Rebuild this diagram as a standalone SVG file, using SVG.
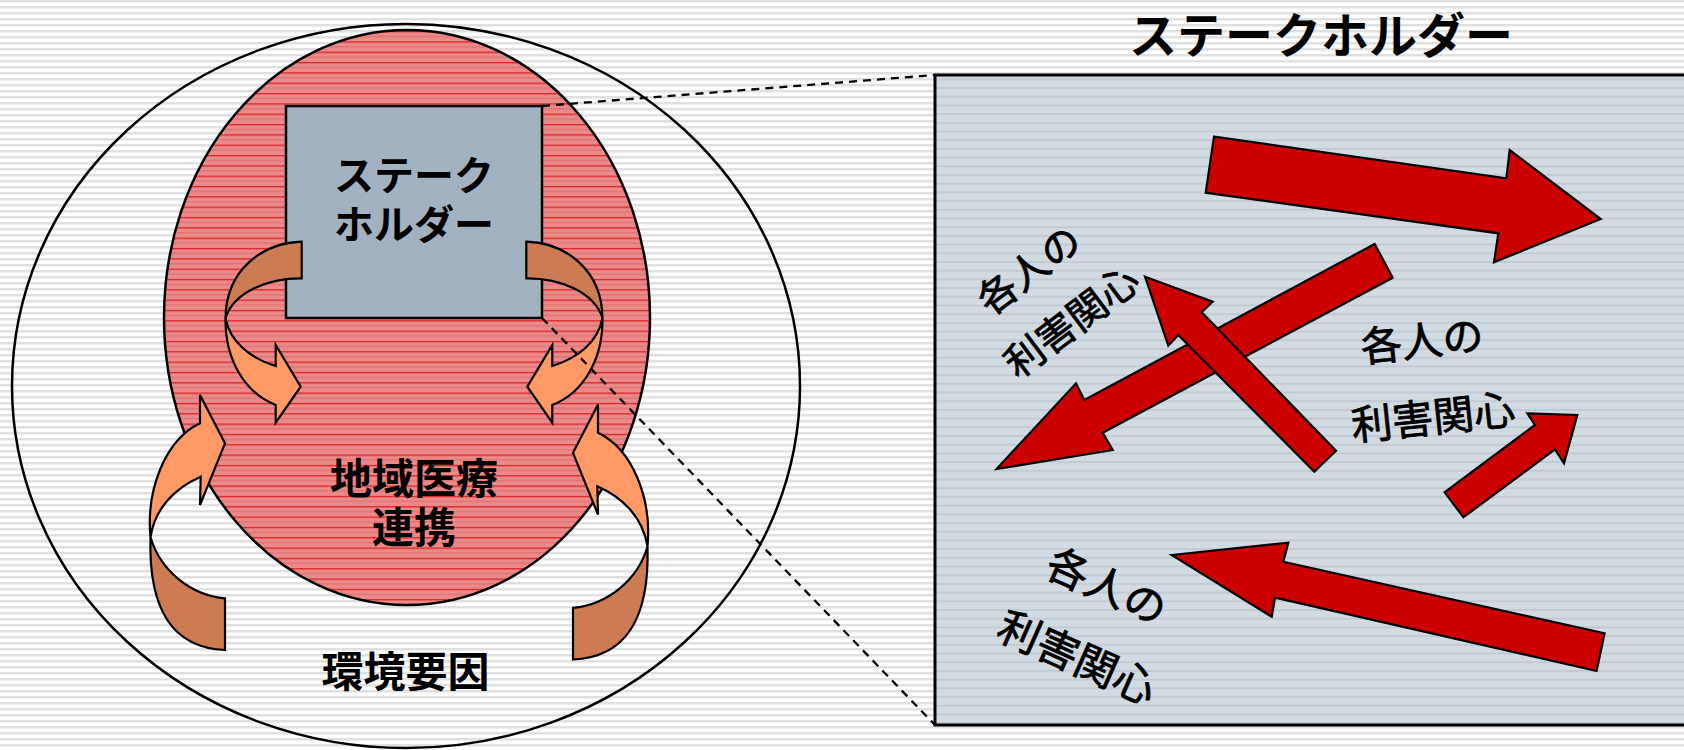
<svg xmlns="http://www.w3.org/2000/svg" xmlns:xlink="http://www.w3.org/1999/xlink" width="1684" height="750" viewBox="0 0 1684 750">
<defs>
<pattern id="bgp" patternUnits="userSpaceOnUse" width="8" height="6"><rect width="8" height="6" fill="#ffffff"/><rect y="0" width="8" height="2.5" fill="#e0e0e0"/></pattern>
<pattern id="redp" patternUnits="userSpaceOnUse" width="8" height="10.33"><rect width="8" height="10.33" fill="#ea8a8a"/><rect y="0" width="8" height="1.3" fill="#dd2222"/><rect y="5" width="8" height="1" fill="#e06a6a"/></pattern>
<pattern id="greyp" patternUnits="userSpaceOnUse" width="8" height="8.7"><rect width="8" height="8.7" fill="#d2dae2"/><rect y="0" width="8" height="2" fill="#c2cbd5"/></pattern>
<path id="ulBack" d="M301.7,241.7 L301.7,278.3 C268,278 234,292 225.5,318 C226,270 262,243 301.7,241.7 Z"/>
<path id="ulFront" d="M225.5,318 C225,360 245,393 275.7,405 L275.7,422.7 L300.7,386.7 L275.7,345 L275.7,366 C250,358 230,342 225.5,318 Z"/>
<path id="llBack" d="M225,598.3 L225,650 C180,648 148,620 150.5,537 C160,570 190,595 225,598.3 Z"/>
<path id="llFront" d="M150.5,537 C146,490 165,440 200,423.3 L200,395 L225,443.3 L200,505 L200.7,476.7 C175,488 155,508 150.5,537 Z"/>
</defs>
<style>
.ln{stroke:#000;stroke-width:2.5;}
.back{fill:#cc7b53;stroke:#000;stroke-width:2.2;stroke-linejoin:miter;}
.front{fill:#ff9966;stroke:#000;stroke-width:2.2;stroke-linejoin:miter;}
.red{fill:#cc0000;stroke:#000;stroke-width:2.2;stroke-linejoin:miter;}
.jb{font-family:'Liberation Sans','Noto Sans CJK JP',sans-serif;font-weight:bold;fill:#000;text-anchor:middle;}
.jn{font-family:'Liberation Sans','Noto Sans CJK JP',sans-serif;font-weight:normal;fill:#000;stroke:#000;stroke-width:0.8;text-anchor:middle;}
.dash{fill:none;stroke:#000;stroke-width:2.3;stroke-dasharray:8,6;}
</style>
<rect width="1684" height="750" fill="url(#bgp)"/>

<g id="environment">
<ellipse cx="406" cy="386" rx="394" ry="362" fill="none" class="ln"/>
<text class="jb" x="405.5" y="687" font-size="42">環境要因</text>
</g>

<g id="regional-care">
<ellipse cx="407" cy="317.5" rx="243" ry="287.5" fill="url(#redp)" class="ln"/>
<text class="jb" x="414" y="494" font-size="42">地域医療</text>
<text class="jb" x="414" y="543" font-size="42">連携</text>
</g>

<g id="stakeholder-box">
<rect x="286" y="106" width="256" height="212" fill="#a3b2c1" stroke="#000" stroke-width="2.5"/>
<text class="jb" x="414" y="190" font-size="40">ステーク</text>
<text class="jb" x="414" y="239" font-size="40">ホルダー</text>
</g>

<g id="arrow-ul"><use xlink:href="#ulBack" class="back"/><use xlink:href="#ulFront" class="front"/></g>
<g id="arrow-ur" transform="translate(828,0) scale(-1,1)"><use xlink:href="#ulBack" class="back"/><use xlink:href="#ulFront" class="front"/></g>
<g id="arrow-ll"><use xlink:href="#llBack" class="back"/><use xlink:href="#llFront" class="front"/></g>
<g id="arrow-lr" transform="translate(798,9.5) scale(-1,1)"><use xlink:href="#llBack" class="back"/><use xlink:href="#llFront" class="front"/></g>

<g id="stakeholder-detail">
<text class="jb" x="1321" y="53" font-size="48">ステークホルダー</text>
<rect x="935" y="75" width="760" height="650" fill="url(#greyp)" stroke="#000" stroke-width="3"/>
<path class="red" d="M1214,136.7 L1506.3,178.3 L1509.7,150 L1600.7,219 L1494,262.3 L1498.3,233.3 L1205.7,192.7 Z"/>
<path class="red" d="M1374.7,244 L1084.3,400 L1076,383.3 L996.7,469 L1112.7,450 L1102.7,432.7 L1392.7,277.7 Z"/>
<path class="red" d="M1145,276.7 L1212.7,301.7 L1201.7,312.3 L1336,450.7 L1314.3,471.7 L1178.3,335 L1168.3,345.7 Z"/>
<path class="red" d="M1527.3,413.3 L1577.3,415 L1564,463.3 L1555,449.3 L1463.4,517.3 L1444.6,492.3 L1535,425 Z"/>
<path class="red" d="M1171.7,555 L1288.3,542.7 L1283.3,561.7 L1604.6,633.3 L1596.6,671 L1275,597.7 L1271.7,616.7 Z"/>
<g transform="translate(1029,270) rotate(-37)"><text class="jn" x="0" y="14" font-size="39">各人の</text><text class="jn" x="3" y="81" font-size="39">利害関心</text></g>
<g transform="translate(1422,341) rotate(-6)"><text class="jn" x="0" y="15" font-size="41">各人の</text><text class="jn" x="3" y="92" font-size="41">利害関心</text></g>
<g transform="translate(1106.7,586.7) rotate(24)"><text class="jn" x="0" y="15" font-size="42">各人の</text><text class="jn" x="2" y="92" font-size="42">利害関心</text></g>
</g>

<g id="connectors">
<line class="dash" x1="542" y1="106" x2="935" y2="75"/>
<line class="dash" x1="542" y1="318" x2="935" y2="725"/>
</g>
</svg>
